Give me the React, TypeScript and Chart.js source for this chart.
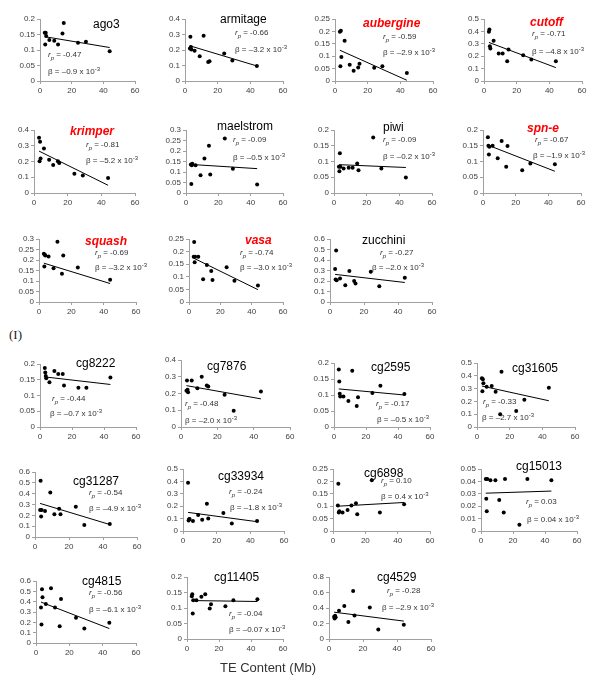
import React, { useEffect, useRef } from "react";
import { Chart, registerables } from "chart.js";

Chart.register(...registerables);

// ---------- DATA ----------
// TE content (Mb) of the species, shared x values of every panel
const TE_MB = [3.0, 3.3, 3.6, 3.9, 5.9, 9.0, 11.4, 14.2, 15.0, 24.0, 29.0, 44.0];
// x range of the fitted regression lines
const FIT_X = [3, 44];
const X_TICKS = [0, 20, 40, 60];

const GENES = [
  "ago3", "armitage", "aubergine", "cutoff",
  "krimper", "maelstrom", "piwi", "spn-e",
  "squash", "vasa", "zucchini",
  "cg8222", "cg7876", "cg2595", "cg31605",
  "cg31287", "cg33934", "cg6898", "cg15013",
  "cg4815", "cg11405", "cg4529",
];
const RED_GENES = ["aubergine", "cutoff", "krimper", "spn-e", "squash", "vasa"];

const ago3 = [0.156, 0.118, 0.156, 0.145, 0.132, 0.130, 0.118, 0.153, 0.187, 0.123, 0.127, 0.096];
const armitage = [0.21, 0.285, 0.22, 0.203, 0.195, 0.16, 0.292, 0.123, 0.128, 0.177, 0.132, 0.097];
const aubergine = [0.199, 0.059, 0.203, 0.097, 0.162, 0.066, 0.041, 0.054, 0.070, 0.053, 0.059, 0.032];
const cutoff = [0.397, 0.416, 0.281, 0.262, 0.324, 0.222, 0.222, 0.159, 0.254, 0.208, 0.173, 0.159];
const krimper = [0.351, 0.202, 0.326, 0.219, 0.283, 0.211, 0.177, 0.202, 0.191, 0.123, 0.111, 0.096];
const maelstrom = [0.136, 0.043, 0.132, 0.139, 0.132, 0.085, 0.164, 0.225, 0.088, 0.26, 0.116, 0.040];
const piwi = [0.083, 0.069, 0.126, 0.083, 0.078, 0.080, 0.080, 0.094, 0.072, 0.176, 0.078, 0.049];
const spnE = [0.177, 0.150, 0.122, 0.147, 0.150, 0.110, 0.165, 0.083, 0.149, 0.072, 0.094, 0.091];
const squash = [0.230, 0.169, 0.225, 0.222, 0.217, 0.161, 0.287, 0.135, 0.222, 0.164, null, 0.106];
const vasa = [0.180, 0.238, 0.158, 0.180, 0.180, 0.090, 0.147, 0.123, 0.087, 0.138, 0.084, 0.065];
const zucchini = [0.314, 0.215, 0.490, 0.208, 0.224, 0.160, 0.295, 0.199, 0.176, 0.288, 0.151, 0.231];
const cg8222 = [0.187, 0.173, 0.162, 0.155, 0.142, 0.178, 0.168, 0.168, 0.132, 0.125, 0.125, 0.157];
const cg7876 = [0.216, 0.277, 0.222, 0.208, 0.277, 0.232, 0.30, 0.248, 0.242, 0.192, 0.097, 0.212];
const cg2595 = [0.180, 0.142, 0.104, 0.095, 0.095, 0.081, 0.176, 0.066, 0.093, 0.106, 0.129, 0.103];
const cg31605 = [0.381, 0.280, 0.373, 0.341, 0.315, 0.32, 0.275, 0.099, 0.432, 0.125, 0.213, 0.307];
const cg31287 = [0.25, 0.52, 0.19, 0.25, 0.24, 0.41, 0.21, 0.26, 0.21, 0.28, 0.11, 0.12];
const cg33934 = [0.39, 0.085, 0.095, 0.097, 0.08, 0.13, 0.09, 0.22, 0.10, 0.145, 0.06, 0.08];
const cg6898 = [0.103, 0.191, 0.075, 0.08, 0.075, 0.085, 0.103, 0.112, 0.068, 0.205, 0.075, 0.108];
const cg15013 = [0.042, 0.026, 0.016, 0.042, 0.041, 0.041, 0.025, 0.015, 0.042, 0.005, 0.042, 0.041];
const cg4815 = [0.344, 0.179, 0.519, 0.442, 0.377, 0.529, 0.344, 0.162, 0.425, 0.244, 0.14, 0.195];
const cg11405 = [0.138, 0.144, 0.082, 0.125, 0.125, 0.136, 0.144, 0.098, 0.112, 0.106, 0.125, 0.128];
const cg4529 = [0.286, 0.265, 0.30, 0.28, 0.363, 0.427, 0.218, 0.62, 0.303, 0.406, 0.124, 0.184];

const VALUES = [
  ago3, armitage, aubergine, cutoff, krimper, maelstrom, piwi, spnE, squash, vasa, zucchini,
  cg8222, cg7876, cg2595, cg31605, cg31287, cg33934, cg6898, cg15013, cg4815, cg11405, cg4529,
];

// regression line values at FIT_X[0] and FIT_X[1]
const FIT_START = [0.143, 0.227, 0.124, 0.311, 0.266, 0.136, 0.090, 0.152, 0.185, 0.174, 0.263,
  0.159, 0.247, 0.119, 0.32, 0.31, 0.15, 0.100, 0.0305, 0.396, 0.124, 0.346];
const FIT_END = [0.108, 0.097, 0.003, 0.108, 0.049, 0.116, 0.081, 0.069, 0.088, 0.049, 0.186,
  0.135, 0.168, 0.100, 0.205, 0.115, 0.075, 0.115, 0.0322, 0.14, 0.121, 0.231];

const Y_MAX = [0.2, 0.4, 0.25, 0.5, 0.4, 0.3, 0.2, 0.2, 0.3, 0.25, 0.6,
  0.2, 0.4, 0.2, 0.5, 0.6, 0.5, 0.25, 0.05, 0.6, 0.2, 0.8];
const Y_STEP = [0.05, 0.1, 0.05, 0.1, 0.1, 0.05, 0.05, 0.05, 0.05, 0.05, 0.1,
  0.05, 0.1, 0.05, 0.1, 0.1, 0.1, 0.05, 0.01, 0.1, 0.05, 0.2];

const RP = ["-0.47", "-0.66", "-0.59", "-0.71", "-0.81", "-0.09", "-0.09", "-0.67", "-0.69", "-0.74", "-0.27",
  "-0.44", "-0.48", "-0.17", "-0.33", "-0.54", "-0.24", "0.10", "0.03", "-0.56", "-0.04", "-0.28"];
const BETA = ["–0.9", "–3.2", "–2.9", "–4.8", "–5.2", "–0.5", "–0.2", "–1.9", "–3.2", "–3.0", "–2.0",
  "–0.7", "–2.0", "–0.5", "–2.7", "–4.9", "–1.8", "0.4", "0.04", "–6.1", "–0.07", "–2.9"];

// ---------- LAYOUT (page pixels) ----------
// plot area l,r,t,b ; text anchors (left x, middle y)
const LAYOUT = [
  { l: 40, r: 135, t: 19, b: 81, title: [93, 25], rp: [48, 55], beta: [48, 72] },
  { l: 185, r: 283, t: 19, b: 81, title: [220, 20], rp: [235, 33], beta: [235, 50] },
  { l: 335, r: 433, t: 19, b: 81, title: [363, 24], rp: [383, 37], beta: [383, 53] },
  { l: 484, r: 582, t: 19, b: 81, title: [530, 23], rp: [532, 34], beta: [532, 52] },
  { l: 34, r: 135, t: 130, b: 193, title: [70, 132], rp: [86, 145], beta: [86, 161] },
  { l: 186, r: 283, t: 130, b: 193, title: [217, 127], rp: [233, 140], beta: [233, 158] },
  { l: 334, r: 432, t: 130, b: 193, title: [383, 128], rp: [383, 140], beta: [383, 157] },
  { l: 483, r: 581, t: 130, b: 193, title: [527, 129], rp: [535, 140], beta: [533, 156] },
  { l: 39, r: 136, t: 239, b: 302, title: [85, 242], rp: [95, 253], beta: [95, 268] },
  { l: 189, r: 283, t: 239, b: 302, title: [245, 241], rp: [240, 253], beta: [240, 268] },
  { l: 330, r: 432, t: 239, b: 302, title: [362, 241], rp: [380, 253], beta: [372, 268] },
  { l: 40, r: 136, t: 364, b: 427, title: [76, 364], rp: [52, 399], beta: [50, 414] },
  { l: 181, r: 290, t: 360, b: 427, title: [207, 367], rp: [185, 404], beta: [185, 421] },
  { l: 334, r: 430, t: 363, b: 427, title: [371, 368], rp: [376, 404], beta: [377, 420] },
  { l: 477, r: 575, t: 363, b: 427, title: [512, 369], rp: [483, 402], beta: [482, 418] },
  { l: 35, r: 137, t: 472, b: 537, title: [73, 482], rp: [89, 493], beta: [89, 509] },
  { l: 183, r: 284, t: 469, b: 531, title: [218, 477], rp: [229, 492], beta: [230, 508] },
  { l: 333, r: 430, t: 469, b: 531, title: [364, 474], rp: [381, 481], beta: [381, 497] },
  { l: 481, r: 577, t: 469, b: 531, title: [516, 467], rp: [526, 502], beta: [527, 520] },
  { l: 36, r: 136, t: 581, b: 643, title: [82, 582], rp: [89, 593], beta: [89, 610] },
  { l: 187, r: 283, t: 577, b: 639, title: [214, 578], rp: [229, 614], beta: [229, 630] },
  { l: 329, r: 431, t: 577, b: 639, title: [377, 578], rp: [387, 591], beta: [382, 608] },
];

const FAM = '"Liberation Sans", Arial, Helvetica, sans-serif';
const YW = 34; // y-axis box width
const XH = 18; // x-axis box height
const PT = 16; // top padding
const PR = 24; // right padding
const AXIS = "#a0a0a0";
const TICK_TXT = "#404040";
const NOTE_TXT = "#333333";

function fmt(v: number) {
  return String(Math.round(v * 10000) / 10000);
}

function Panel({ i }: { i: number }) {
  const ref = useRef<HTMLCanvasElement | null>(null);
  const box = LAYOUT[i];
  const cw = box.r - box.l + YW + PR;
  const ch = box.b - box.t + PT + XH;
  const left = box.l - YW;
  const top = box.t - PT;

  useEffect(() => {
    if (!ref.current) return;
    const nTicks = Math.round(Y_MAX[i] / Y_STEP[i]);
    const yTicks = Array.from({ length: nTicks + 1 }, (_, k) => +(k * Y_STEP[i]).toFixed(4));
    const name = GENES[i];
    const red = RED_GENES.includes(name);

    const textPlugin = {
      id: "panelText" + i,
      afterDraw(chart: any) {
        const ctx = chart.ctx as CanvasRenderingContext2D;
        ctx.save();
        ctx.textBaseline = "middle";
        ctx.textAlign = "left";
        // title
        ctx.font = red ? `italic bold 12px ${FAM}` : `12px ${FAM}`;
        ctx.fillStyle = red ? "#ff0000" : "#000000";
        ctx.fillText(name, box.title[0] - left, box.title[1] - top);
        // r_p
        ctx.fillStyle = NOTE_TXT;
        let x = box.rp[0] - left;
        const y = box.rp[1] - top;
        ctx.font = `italic 8px ${FAM}`;
        ctx.fillText("r", x, y);
        x += ctx.measureText("r").width;
        ctx.font = `italic 6px ${FAM}`;
        ctx.fillText("p", x, y + 3);
        x += ctx.measureText("p").width;
        ctx.font = `8px ${FAM}`;
        ctx.fillText(" = " + RP[i], x, y);
        // beta
        let bx = box.beta[0] - left;
        const by = box.beta[1] - top;
        const main = `β = ${BETA[i]} x 10`;
        ctx.font = `8px ${FAM}`;
        ctx.fillText(main, bx, by);
        bx += ctx.measureText(main).width;
        ctx.font = `6px ${FAM}`;
        ctx.fillText("-3", bx, by - 3);
        ctx.restore();
      },
    };

    const points = TE_MB.map((x, k) => ({ x, y: VALUES[i][k] })).filter((p) => p.y !== null);
    const fit = [
      { x: FIT_X[0], y: FIT_START[i] },
      { x: FIT_X[1], y: FIT_END[i] },
    ];

    const chart = new Chart(ref.current, {
      type: "scatter",
      data: {
        datasets: [
          {
            type: "line",
            data: fit,
            borderColor: "#000000",
            borderWidth: 1,
            pointRadius: 0,
            fill: false,
            order: 2,
          } as any,
          {
            type: "scatter",
            data: points,
            backgroundColor: "#000000",
            borderColor: "#000000",
            borderWidth: 0,
            pointRadius: 2,
            order: 1,
          } as any,
        ],
      },
      options: {
        responsive: false,
        animation: false,
        devicePixelRatio: 1,
        layout: { padding: { top: PT, right: PR, left: 0, bottom: 0 } },
        plugins: { legend: { display: false }, tooltip: { enabled: false }, title: { display: false } },
        scales: {
          x: {
            type: "linear",
            min: 0,
            max: 60,
            afterBuildTicks: (s: any) => {
              s.ticks = X_TICKS.map((v) => ({ value: v }));
            },
            afterFit: (s: any) => {
              s.height = XH;
            },
            ticks: {
              autoSkip: false,
              maxRotation: 0,
              padding: 2,
              color: TICK_TXT,
              font: { size: 8, family: FAM },
              callback: (v: any) => fmt(Number(v)),
            },
            grid: { drawOnChartArea: false, tickLength: 3, color: AXIS },
            border: { color: AXIS, width: 1 },
          },
          y: {
            type: "linear",
            min: 0,
            max: Y_MAX[i],
            afterBuildTicks: (s: any) => {
              s.ticks = yTicks.map((v) => ({ value: v }));
            },
            afterFit: (s: any) => {
              s.width = YW;
            },
            ticks: {
              autoSkip: false,
              padding: 2,
              color: TICK_TXT,
              font: { size: 8, family: FAM },
              callback: (v: any) => fmt(Number(v)),
            },
            grid: { drawOnChartArea: false, tickLength: 3, color: AXIS },
            border: { color: AXIS, width: 1 },
          },
        },
      } as any,
      plugins: [textPlugin],
    });
    return () => chart.destroy();
  }, [i]);

  return (
    <canvas
      ref={ref}
      width={cw}
      height={ch}
      style={{ position: "absolute", left, top, width: cw, height: ch }}
    />
  );
}

export default function App() {
  return (
    <div
      style={{
        position: "absolute",
        left: 0,
        top: 0,
        width: 600,
        height: 693,
        overflow: "hidden",
        background: "#ffffff",
      }}
    >
      {GENES.map((g, i) => (
        <Panel key={g} i={i} />
      ))}
      <div
        style={{
          position: "absolute",
          left: 9,
          top: 326,
          font: '13px "Liberation Serif", "Times New Roman", serif',
          lineHeight: "18px",
          color: "#222",
        }}
      >
        (I)
      </div>
      <div
        style={{
          position: "absolute",
          left: 268,
          top: 659,
          transform: "translateX(-50%)",
          whiteSpace: "nowrap",
          font: `13px ${FAM}`,
          lineHeight: "18px",
          color: "#333",
        }}
      >
        TE Content (Mb)
      </div>
    </div>
  );
}
